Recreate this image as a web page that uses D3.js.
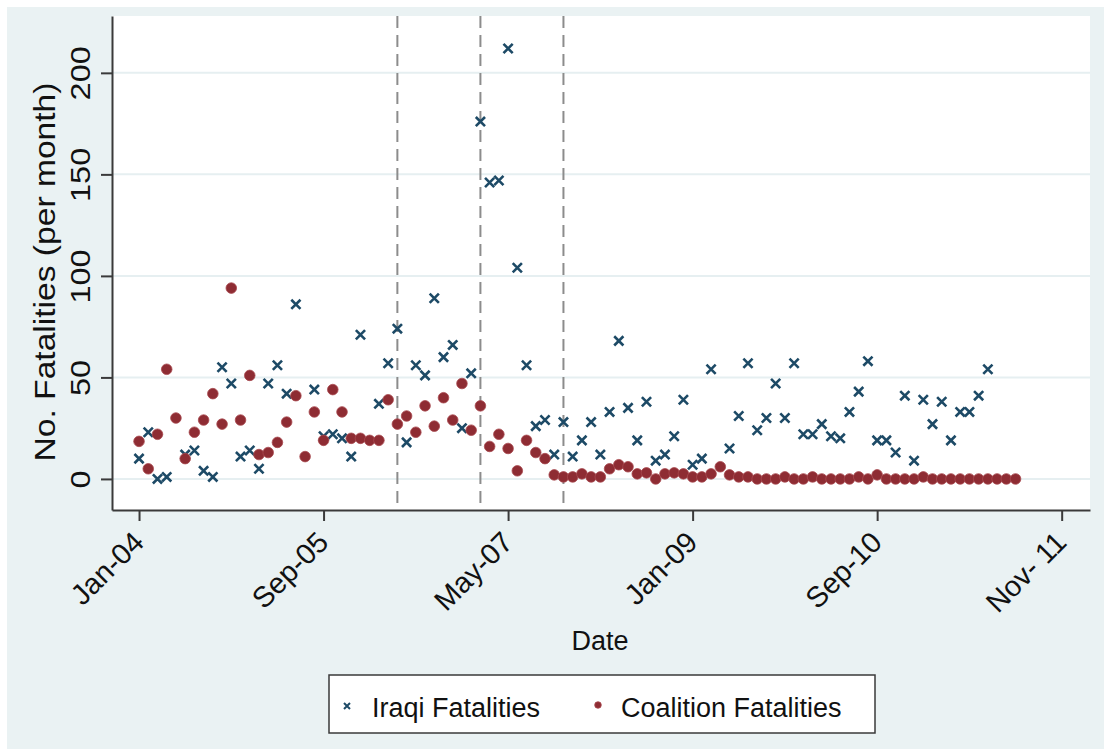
<!DOCTYPE html>
<head>
  <meta charset="utf-8">
  <script src="https://d3js.org/d3.v7.min.js"></script>
  <style>
  body { margin: 0; background: #fff; }
  text { font-family: "Liberation Sans", Arial, sans-serif; fill: #111; }
  .grid line { stroke: #e6eff1; stroke-width: 2px; }
  .axis path, .axis line { stroke: #3a3a3a; stroke-width: 2px; }
  .vline { stroke: #8c8c8c; stroke-width: 2px; stroke-dasharray: 12 7; }
  .iraqi { stroke: #1d4a66; stroke-width: 2.6px; fill: none; }
  .coalition { fill: #8e2c33; stroke: #a8494f; stroke-width: 0.8px; }
</style>
</head>
<body>
<svg width="1104" height="749"></svg>

<script type="text/javascript">
// monthly data, index 0 = Jan-04
var iraqi = [10, 23, 0, 1, null, 12, 14, 4, 1, 55,
  47, 11, 14, 5, 47, 56, 42, 86, null, 44,
  21, 22, 20, 11, 71, null, 37, 57, 74, 18,
  56, 51, 89, 60, 66, 25, 52, 176, 146, 147,
  212, 104, 56, 26, 29, 12, 28, 11, 19, 28,
  12, 33, 68, 35, 19, 38, 9, 12, 21, 39,
  7, 10, 54, null, 15, 31, 57, 24, 30, 47,
  30, 57, 22, 22, 27, 21, 20, 33, 43, 58,
  19, 19, 13, 41, 9, 39, 27, 38, 19, 33,
  33, 41, 54];
var coalition = [18.5, 5, 22, 54, 30, 10, 23, 29, 42, 27,
  94, 29, 51, 12, 13, 18, 28, 41, 11, 33,
  19, 44, 33, 20, 20, 19, 19, 39, 27, 31,
  23, 36, 26, 40, 29, 47, 24, 36, 16, 22,
  15, 4, 19, 13, 10, 2, 1, 1, 2.5, 1,
  1, 5, 7, 6, 2.5, 3, 0, 2.5, 3, 2.5,
  1, 1, 2.5, 6, 2, 1, 1, 0, 0, 0,
  1, 0, 0, 1, 0, 0, 0, 0, 1, 0,
  2, 0, 0, 0, 0, 1, 0, 0, 0, 0,
  0, 0, 0, 0, 0, 0];
var xTickMonths = [0, 20, 40, 60, 80, 100];
var xTickLabels = ["Jan-04", "Sep-05", "May-07", "Jan-09", "Sep-10", "Nov- 11"];
var yTicks = [0, 50, 100, 150, 200];
var eventMonths = [28, 37, 46];

var svg = d3.select("svg");
var pLeft = 112, pRight = 1090, pTop = 16, pBottom = 510;

svg.append("rect").attr("x", 7).attr("y", 7).attr("width", 1097).attr("height", 742).attr("fill", "#eaf2f3");
svg.append("rect").attr("x", pLeft).attr("y", pTop).attr("width", pRight - pLeft).attr("height", pBottom - pTop).attr("fill", "#fff");

var x = d3.scaleLinear().domain([-2.93, 103.07]).range([pLeft, pRight]);
var y = d3.scaleLinear().domain([-15.3, 228]).range([pBottom, pTop]);

// gridlines
svg.append("g").attr("class", "grid")
  .selectAll("line").data(yTicks).enter().append("line")
    .attr("x1", pLeft).attr("x2", pRight)
    .attr("y1", function(d) { return y(d); })
    .attr("y2", function(d) { return y(d); });

// dashed event lines
svg.selectAll(".vline").data(eventMonths).enter().append("line")
  .attr("class", "vline")
  .attr("x1", function(d) { return x(d); }).attr("x2", function(d) { return x(d); })
  .attr("y1", pTop).attr("y2", pBottom);

// axes
var yAxis = svg.append("g").attr("class", "axis")
  .attr("transform", "translate(" + pLeft + ",0)")
  .call(d3.axisLeft(y).tickValues(yTicks).tickSize(11).tickSizeOuter(0));
yAxis.selectAll("text")
  .attr("x", 0).attr("y", -22).attr("dy", 0)
  .attr("text-anchor", "middle")
  .attr("transform", "rotate(-90) scale(1.2,1)")
  .style("font-size", "27px");

var xAxis = svg.append("g").attr("class", "axis")
  .attr("transform", "translate(0," + pBottom + ")")
  .call(d3.axisBottom(x).tickValues(xTickMonths).tickSize(11).tickSizeOuter(0)
    .tickFormat(function(d, i) { return xTickLabels[i]; }));
xAxis.selectAll("text")
  .attr("x", 0).attr("y", 0).attr("dy", 0)
  .attr("text-anchor", "end")
  .attr("transform", "translate(6,34) rotate(-45)")
  .style("font-size", "29px");

// titles
svg.append("text")
  .attr("transform", "translate(55,272) rotate(-90) scale(1.12,1)")
  .attr("text-anchor", "middle")
  .style("font-size", "30px")
  .text("No. Fatalities (per month)");
svg.append("text")
  .attr("x", 600).attr("y", 650)
  .attr("text-anchor", "middle")
  .style("font-size", "27px")
  .text("Date");

// points
var s = 4.6;
svg.append("g").selectAll("path")
  .data(iraqi.map(function(v, i) { return [i, v]; }).filter(function(d) { return d[1] !== null; }))
  .enter().append("path")
    .attr("class", "iraqi")
    .attr("d", function(d) {
      var cx = x(d[0]), cy = y(d[1]);
      return "M" + (cx - s) + "," + (cy - s) + "L" + (cx + s) + "," + (cy + s) +
             "M" + (cx - s) + "," + (cy + s) + "L" + (cx + s) + "," + (cy - s);
    });

svg.append("g").selectAll("circle")
  .data(coalition.map(function(v, i) { return [i, v]; }))
  .enter().append("circle")
    .attr("class", "coalition")
    .attr("cx", function(d) { return x(d[0]); })
    .attr("cy", function(d) { return y(d[1]); })
    .attr("r", 5.3);

// legend
var lg = svg.append("g");
lg.append("rect").attr("x", 329).attr("y", 675).attr("width", 546).attr("height", 58)
  .attr("fill", "#fff").attr("stroke", "#3a3a3a").attr("stroke-width", 1.5);
lg.append("path").attr("class", "iraqi").style("stroke-width", "2px")
  .attr("d", "M344,703L350,709M344,709L350,703");
lg.append("text").attr("x", 372).attr("y", 717).style("font-size", "27px").text("Iraqi Fatalities");
lg.append("circle").attr("class", "coalition").attr("cx", 598).attr("cy", 705).attr("r", 3.3);
lg.append("text").attr("x", 621).attr("y", 717).style("font-size", "27px").text("Coalition Fatalities");
</script>

</body>
</html>
